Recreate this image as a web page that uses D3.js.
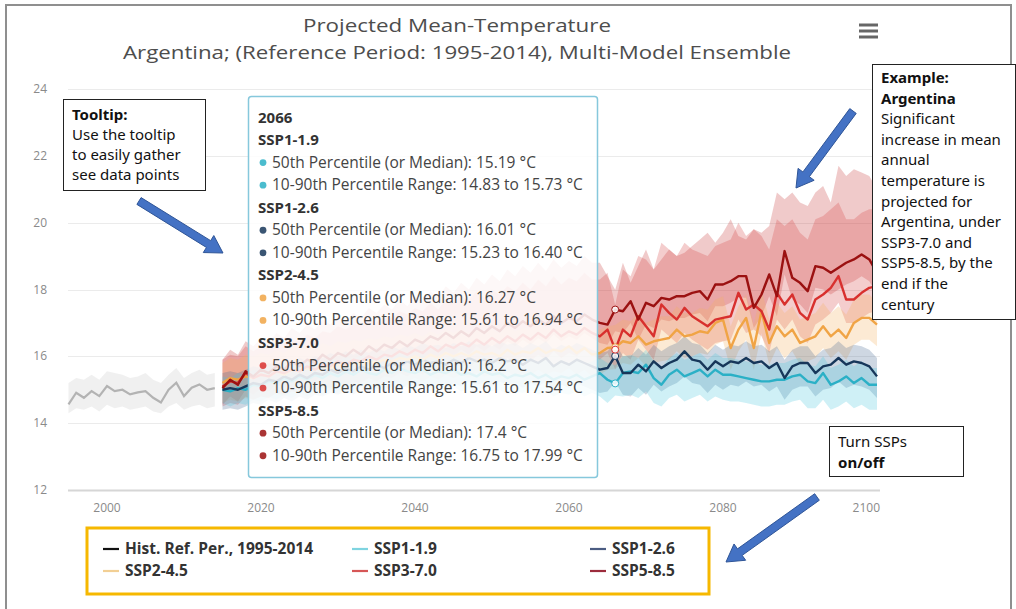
<!DOCTYPE html>
<html>
<head>
<meta charset="utf-8">
<script src="https://cdn.jsdelivr.net/npm/d3@7"></script>
<style>
  body { margin: 0; background: #fff; }
  svg { display: block; font-family: "Open Sans", sans-serif; }
</style>
</head>
<body>
<script>
// historical reference period, 1995-2014
var histStart = 1995;
var histMed = [14.56,14.91,14.76,14.96,14.81,15.11,14.96,15.0,14.86,14.92,14.96,14.76,14.62,15.0,15.21,14.81,15.06,15.16,15.0,15.05];
var histLo  = [14.3,14.45,14.4,14.5,14.35,14.55,14.45,14.5,14.4,14.45,14.5,14.35,14.3,14.5,14.6,14.4,14.5,14.55,14.45,14.5];
var histHi  = [15.2,15.35,15.3,15.45,15.3,15.55,15.5,15.45,15.35,15.4,15.5,15.3,15.2,15.45,15.65,15.35,15.5,15.6,15.45,15.5];

// projections, 2015-2100
var sspStart = 2015;
var ssp119Med = [15.0,14.95,15.05,15.0,15.15, 15.1,15.25,15.2,15.35,15.25, 15.4,15.3,15.45,15.35,15.5, 15.4,15.55,15.45,15.6,15.5, 15.45,15.6,15.5,15.65,15.55, 15.5,15.6,15.45,15.55,15.5, 15.6,15.45,15.5,15.4,15.55, 15.45,15.5,15.35,15.45,15.4, 15.5,15.35,15.45,15.3,15.4, 15.35,15.45,15.3,15.4,
  15.5,15.3,15.19,15.5,15.55, 15.5,15.75,15.35,15.15,15.45, 15.6,15.4,15.5,15.6,15.4, 15.6,15.45,15.45,15.4,15.35, 15.3,15.25,15.25,15.3,15.3, 15.4,15.45,15.25,15.2,15.5, 15.15,15.25,15.4,15.2,15.35, 15.15,15.15];
var ssp119Lo = [14.6,14.5,14.6,14.55,14.7, 14.65,14.8,14.7,14.85,14.75, 14.9,14.8,14.95,14.85,15.0, 14.9,15.05,14.95,15.1,15.0, 14.95,15.1,15.0,15.15,15.05, 15.0,15.1,14.95,15.05,15.0, 15.1,14.95,15.0,14.9,15.05, 14.95,15.0,14.85,14.95,14.9, 15.0,14.85,14.95,14.8,14.9, 14.85,14.95,14.8,14.9,
  14.8,14.6,14.83,14.8,14.85, 14.75,14.95,14.6,14.5,14.75, 14.85,14.65,14.75,14.85,14.65, 14.8,14.7,14.65,14.65,14.6, 14.55,14.5,14.5,14.55,14.55, 14.65,14.7,14.45,14.45,14.7, 14.4,14.5,14.65,14.45,14.55, 14.4,14.4];
var ssp119Hi = [15.4,15.35,15.5,15.45,15.6, 15.55,15.7,15.65,15.8,15.7, 15.85,15.75,15.9,15.8,15.95, 15.85,16.0,15.9,16.05,15.95, 15.9,16.05,15.95,16.1,16.0, 15.95,16.05,15.9,16.0,15.95, 16.05,15.9,15.95,15.85,16.0, 15.9,15.95,15.8,15.9,15.85, 15.95,15.8,15.9,15.75,15.85, 15.8,15.9,15.75,15.85,
  15.95,15.8,15.73,16.0,16.05, 15.95,16.2,15.85,15.65,15.95, 16.1,15.9,16.0,16.1,15.9, 16.1,15.95,15.95,15.9,15.85, 15.8,15.75,15.75,15.8,15.8, 15.9,15.95,15.75,15.7,16.0, 15.65,15.75,15.9,15.7,15.85, 15.65,15.65];

var ssp126Med = [15.0,15.05,15.0,15.1,15.2, 15.15,15.3,15.25,15.4,15.3, 15.45,15.35,15.5,15.45,15.6, 15.5,15.65,15.55,15.7,15.6, 15.75,15.65,15.8,15.7,15.85, 15.75,15.9,15.8,15.85,15.75, 15.9,15.8,15.95,15.85,15.9, 15.8,15.95,15.85,15.9,15.75, 15.9,15.8,15.95,15.7,15.85, 15.75,15.9,15.8,15.7,
  15.6,15.65,16.01,15.5,15.5, 15.75,15.55,15.85,15.65,15.8, 15.9,16.15,15.9,15.85,15.6, 15.85,15.7,15.85,15.8,15.95, 15.8,15.85,15.65,15.8,15.35, 15.7,15.8,15.8,15.5,15.7, 15.75,15.95,15.75,15.85,15.8, 15.7,15.4];
var ssp126Lo = [14.4,14.45,14.4,14.5,14.6, 14.55,14.7,14.6,14.75,14.65, 14.8,14.7,14.85,14.8,14.9, 14.85,14.95,14.85,15.0,14.9, 15.05,14.95,15.1,15.0,15.15, 15.05,15.2,15.1,15.15,15.05, 15.2,15.1,15.25,15.15,15.2, 15.1,15.25,15.15,15.2,15.05, 15.2,15.1,15.25,15.0,15.15, 15.05,15.2,15.1,15.0,
  14.9,14.95,15.23,14.85,14.8, 15.05,14.85,15.15,14.95,15.1, 15.2,15.4,15.2,15.15,14.9, 15.15,15.0,15.15,15.1,15.25, 15.1,15.15,14.95,15.1,14.7, 15.0,15.1,15.1,14.8,15.0, 15.05,15.25,15.05,15.15,15.1, 15.0,14.75];
var ssp126Hi = [15.5,15.55,15.5,15.6,15.7, 15.65,15.8,15.75,15.9,15.8, 15.95,15.85,16.0,15.95,16.1, 16.0,16.15,16.05,16.2,16.1, 16.25,16.15,16.3,16.2,16.35, 16.25,16.4,16.3,16.35,16.25, 16.4,16.3,16.45,16.35,16.4, 16.3,16.45,16.35,16.4,16.25, 16.4,16.3,16.45,16.2,16.35, 16.25,16.4,16.3,16.2,
  16.1,16.15,16.4,16.0,16.0, 16.25,16.05,16.35,16.15,16.3, 16.4,16.6,16.4,16.35,16.1, 16.35,16.2,16.35,16.3,16.45, 16.3,16.35,16.15,16.3,15.9, 16.2,16.3,16.3,16.0,16.2, 16.25,16.45,16.25,16.35,16.3, 16.2,15.95];

var ssp245Med = [15.2,15.35,15.3,15.4,15.35, 15.45,15.4,15.55,15.45,15.6, 15.55,15.65,15.6,15.7,15.65, 15.75,15.7,15.8,15.75,15.85, 15.8,15.9,15.85,15.95,15.9, 16.0,15.9,16.05,15.95,16.1, 16.0,16.1,16.0,16.15,16.05, 16.1,16.0,16.2,16.05,16.15, 16.1,16.25,16.1,16.2,16.15, 16.3,16.1,16.25,16.05,
  16.1,16.25,16.27,16.45,16.4, 16.6,16.35,16.45,16.5,16.55, 16.8,16.6,16.65,16.75,16.7, 17.0,17.1,16.25,16.8,17.15, 16.25,17.35,16.4,16.9,16.6, 16.8,16.4,16.5,16.6,16.9, 16.6,16.8,16.55,17.0,17.15, 17.15,16.95];
var ssp245Lo = [14.6,14.7,14.65,14.75,14.7, 14.8,14.75,14.9,14.8,14.95, 14.9,15.0,14.95,15.05,15.0, 15.1,15.05,15.15,15.1,15.2, 15.15,15.25,15.2,15.3,15.25, 15.35,15.25,15.4,15.3,15.45, 15.35,15.45,15.35,15.5,15.4, 15.45,15.35,15.55,15.4,15.5, 15.45,15.6,15.45,15.55,15.5, 15.65,15.45,15.6,15.4,
  15.45,15.6,15.61,15.8,15.75, 15.95,15.7,15.8,15.85,15.9, 16.15,15.95,16.0,16.1,16.05, 16.35,16.45,15.6,16.15,16.5, 15.6,16.7,15.75,16.25,15.95, 16.15,15.75,15.85,15.95,16.25, 15.95,16.15,15.9,16.35,16.5, 16.5,16.3];
var ssp245Hi = [15.8,15.95,15.9,16.05,16.0, 16.1,16.05,16.2,16.1,16.3, 16.2,16.35,16.25,16.4,16.3, 16.45,16.4,16.5,16.45,16.55, 16.5,16.6,16.55,16.65,16.6, 16.7,16.6,16.75,16.65,16.8, 16.7,16.8,16.7,16.85,16.75, 16.8,16.7,16.9,16.75,16.85, 16.8,16.95,16.8,16.9,16.85, 17.0,16.8,16.95,16.75,
  16.8,16.9,16.94,17.1,17.05, 17.3,17.0,17.1,17.2,17.2, 17.5,17.3,17.3,17.45,17.4, 17.7,17.8,16.9,17.5,17.85, 16.95,18.0,17.1,17.6,17.3, 17.5,17.1,17.2,17.3,17.6, 17.3,17.5,17.25,17.7,17.85, 17.85,17.6];

var ssp370Med = [15.1,15.25,15.2,15.5,15.35, 15.45,15.4,15.55,15.5,15.6, 15.55,15.7,15.6,15.75,15.7, 15.85,15.75,15.9,15.85,16.0, 15.9,16.05,16.0,16.15,16.05, 16.2,16.1,16.3,16.15,16.35, 16.25,16.4,16.3,16.5,16.35, 16.55,16.4,16.6,16.45,16.65, 16.5,16.7,16.55,16.8,16.6, 16.75,16.65,16.85,16.7,
  16.6,16.8,16.2,16.8,16.6, 17.2,16.9,16.6,17.55,17.3, 17.1,17.45,17.2,17.05,16.9, 17.1,17.15,17.2,17.9,17.4, 17.55,17.35,16.8,17.9,17.55, 17.85,17.3,17.1,17.7,17.85, 18.05,18.4,17.7,17.7,17.9, 18.05,18.1];
var ssp370Lo = [14.5,14.6,14.55,14.8,14.7, 14.8,14.75,14.9,14.85,14.95, 14.9,15.05,14.95,15.1,15.05, 15.2,15.1,15.25,15.2,15.35, 15.25,15.4,15.35,15.5,15.4, 15.55,15.45,15.65,15.5,15.7, 15.6,15.75,15.65,15.85,15.7, 15.9,15.75,15.95,15.8,16.0, 15.85,16.05,15.9,16.15,15.95, 16.1,16.0,16.2,16.05,
  15.9,16.1,15.61,16.1,15.9, 16.5,16.2,15.9,16.8,16.6, 16.4,16.7,16.5,16.35,16.2, 16.4,16.45,16.5,17.1,16.7, 16.8,16.6,16.1,17.1,16.8, 17.1,16.6,16.4,16.95,17.1, 17.3,17.6,17.0,17.0,17.15, 17.3,17.35];
var ssp370Hi = [15.9,16.05,16.0,16.3,16.15, 16.3,16.25,16.4,16.4,16.5, 16.45,16.65,16.55,16.75,16.7, 16.9,16.8,16.95,16.95,17.1, 17.0,17.2,17.15,17.35,17.25, 17.45,17.35,17.6,17.4,17.7, 17.6,17.8,17.7,17.95,17.75, 18.0,17.85,18.1,17.95,18.2, 18.0,18.3,18.1,18.4,18.15, 18.35,18.25,18.5,18.3,
  18.3,18.5,17.54,18.6,18.4, 19.0,18.9,18.6,19.4,19.2, 19.0,19.4,19.2,19.1,19.0, 19.3,19.4,19.5,20.0,19.6, 19.8,19.6,19.2,20.1,19.9, 20.1,19.7,19.5,20.1,20.2, 20.4,20.6,20.1,20.1,20.3, 20.4,20.4];

var ssp585Med = [15.05,15.3,15.15,15.55,15.4, 15.6,15.5,15.7,15.6,15.85, 15.7,15.9,15.8,16.05,15.9, 16.1,16.0,16.2,16.05,16.3, 16.15,16.35,16.25,16.45,16.3, 16.5,16.4,16.6,16.5,16.7, 16.55,16.75,16.6,16.85,16.7, 16.9,16.75,17.0,16.85,17.05, 16.9,17.1,16.95,17.2,17.0, 17.15,17.05,17.25,17.1,
  17.0,16.95,17.4,17.35,17.65, 17.1,17.6,17.5,17.75,17.7, 17.8,17.8,17.9,17.95,17.7, 18.15,18.15,18.25,18.4,18.4, 17.45,17.85,18.45,17.8,19.15, 18.35,18.2,17.95,18.7,18.65, 18.5,18.65,18.8,18.9,19.05, 18.9,18.5];
var ssp585Lo = [14.55,14.8,14.65,15.0,14.85, 15.05,14.95,15.15,15.05,15.3, 15.15,15.35,15.25,15.5,15.35, 15.55,15.45,15.65,15.5,15.75, 15.6,15.8,15.7,15.9,15.75, 15.95,15.85,16.05,15.95,16.15, 16.0,16.2,16.05,16.3,16.15, 16.35,16.2,16.45,16.3,16.5, 16.35,16.55,16.4,16.65,16.45, 16.6,16.5,16.7,16.55,
  16.4,16.35,16.75,16.7,17.0, 16.5,16.95,16.85,17.1,17.05, 17.15,17.15,17.25,17.3,17.05, 17.5,17.5,17.6,17.75,17.75, 16.85,17.2,17.8,17.2,18.45, 17.7,17.55,17.3,18.05,18.0, 17.85,18.0,18.15,18.25,18.4, 18.25,17.85];
var ssp585Hi = [15.9,16.2,16.05,16.45,16.3, 16.55,16.4,16.7,16.55,16.85, 16.7,16.95,16.8,17.1,16.95, 17.2,17.05,17.3,17.15,17.45, 17.3,17.55,17.4,17.7,17.5, 17.8,17.65,17.95,17.75,18.1, 17.9,18.2,18.0,18.35,18.15, 18.45,18.25,18.6,18.4,18.7, 18.5,18.8,18.55,18.9,18.65, 18.85,18.7,19.0,18.8,
  18.8,18.4,17.99,18.8,18.2, 18.7,19.2,18.6,18.9,19.2, 19.0,19.1,19.3,19.5,19.7, 19.4,19.7,20.1,19.6,19.5, 19.8,19.7,19.9,20.9,20.7, 20.9,20.6,20.5,20.9,21.1, 20.6,21.7,21.4,21.6,21.5, 21.4,21.0];

var sspNames = ["SSP1-1.9", "SSP1-2.6", "SSP2-4.5", "SSP3-7.0", "SSP5-8.5"];
var sspColors = ["#2bb0c6", "#17375a", "#f0a445", "#d8302e", "#9b1111"];
var bandColors = ["#4fc8de", "#4a6a92", "#f5b060", "#d84545", "#c83c3c"];

// tooltip at the hovered year
var tipYear = 2066;
var tipMedian = ["15.19", "16.01", "16.27", "16.2", "17.4"];
var tipLow = ["14.83", "15.23", "15.61", "15.61", "16.75"];
var tipHigh = ["15.73", "16.40", "16.94", "17.54", "17.99"];

var yTicks = [12, 14, 16, 18, 20, 22, 24];
var xTicks = [2000, 2020, 2040, 2060, 2080, 2100];

var legendLabels = ["Hist. Ref. Per., 1995-2014", "SSP1-1.9", "SSP1-2.6", "SSP2-4.5", "SSP3-7.0", "SSP5-8.5"];
var legendColors = ["#111111", "#7fd4e0", "#4b5c82", "#f2cf94", "#d65656", "#9c2c3c"];

var svg = d3.select('body').append('svg')
  .attr('width', 1016)
  .attr('height', 609);

var x = d3.scaleLinear().domain([1995, 2100]).range([68.5, 877]);
var y = d3.scaleLinear().domain([12, 24]).range([490, 89]);

// outer frame of the screenshot
svg.append('path')
  .attr('d', 'M6,612V5H1011V612')
  .attr('fill', 'none')
  .attr('stroke', '#8f8f8f')
  .attr('stroke-width', 2);

// title, slightly condensed
svg.append('text').attr('x', 457).attr('y', 32).attr('text-anchor', 'middle')
  .attr('textLength', 308).attr('lengthAdjust', 'spacingAndGlyphs')
  .style('font-size', '19px').style('fill', '#4d4d4d')
  .text('Projected Mean-Temperature');
svg.append('text').attr('x', 457).attr('y', 59).attr('text-anchor', 'middle')
  .attr('textLength', 668).attr('lengthAdjust', 'spacingAndGlyphs')
  .style('font-size', '19px').style('fill', '#4d4d4d')
  .text('Argentina; (Reference Period: 1995-2014), Multi-Model Ensemble');

// menu icon
svg.selectAll('.menu').data([0, 1, 2]).enter().append('line')
  .attr('x1', 859).attr('x2', 878)
  .attr('y1', d => 25 + d * 6).attr('y2', d => 25 + d * 6)
  .attr('stroke', '#666').attr('stroke-width', 3);

// grid
svg.selectAll('.grid').data(yTicks).enter().append('line')
  .attr('x1', 68).attr('x2', 880)
  .attr('y1', d => Math.round(y(d)) + 0.5).attr('y2', d => Math.round(y(d)) + 0.5)
  .attr('stroke', d => d === 12 ? '#d6d6d6' : '#ebebeb')
  .attr('stroke-width', d => d === 12 ? 2 : 1);

svg.selectAll('.ylab').data(yTicks).enter().append('text')
  .attr('x', 47).attr('y', d => y(d) + 4)
  .attr('text-anchor', 'end')
  .style('font-size', '12px').style('fill', '#8a8a8a')
  .text(d => d);

svg.selectAll('.xlab').data(xTicks).enter().append('text')
  .attr('x', (d, i) => i === xTicks.length - 1 ? x(d) + 3 : x(d))
  .attr('y', 512)
  .attr('text-anchor', (d, i) => i === xTicks.length - 1 ? 'end' : 'middle')
  .style('font-size', '12px').style('fill', '#8a8a8a')
  .text(d => d);

// build series
function rows(start, med, lo, hi) {
  return med.map((v, i) => ({year: start + i, med: v, lo: lo[i], hi: hi[i]}));
}
var hist = rows(histStart, histMed, histLo, histHi);
var ssps = [
  rows(sspStart, ssp119Med, ssp119Lo, ssp119Hi),
  rows(sspStart, ssp126Med, ssp126Lo, ssp126Hi),
  rows(sspStart, ssp245Med, ssp245Lo, ssp245Hi),
  rows(sspStart, ssp370Med, ssp370Lo, ssp370Hi),
  rows(sspStart, ssp585Med, ssp585Lo, ssp585Hi)
];

var area = d3.area().x(d => x(d.year)).y0(d => y(d.lo)).y1(d => y(d.hi));
var line = d3.line().x(d => x(d.year)).y(d => y(d.med));

svg.append('path').datum(hist).attr('d', area)
  .attr('fill', '#d9d9d9').attr('fill-opacity', 0.4);

var order = [4, 3, 2, 1, 0];
order.forEach(function(k) {
  svg.append('path').datum(ssps[k]).attr('d', area)
    .attr('fill', bandColors[k]).attr('fill-opacity', 0.27);
});

svg.append('path').datum(hist).attr('d', line)
  .attr('fill', 'none').attr('stroke', '#b3b3b3').attr('stroke-width', 2.2);

[0, 1, 2, 3, 4].forEach(function(k) {
  svg.append('path').datum(ssps[k]).attr('d', line)
    .attr('fill', 'none').attr('stroke', sspColors[k])
    .attr('stroke-width', 2.4).attr('stroke-linejoin', 'round');
});

// hover markers
svg.selectAll('.hover').data(ssps).enter().append('circle')
  .attr('cx', d => x(tipYear))
  .attr('cy', d => y(d.find(r => r.year === tipYear).med))
  .attr('r', 3.5)
  .attr('fill', '#fff').attr('fill-opacity', 0.85)
  .attr('stroke', (d, i) => sspColors[i]).attr('stroke-width', 1);

// tooltip
var tip = svg.append('g');
tip.append('rect')
  .attr('x', 248.5).attr('y', 96.5).attr('width', 349).attr('height', 381).attr('rx', 3)
  .attr('fill', '#fff').attr('fill-opacity', 0.86)
  .attr('stroke', '#86c8dc').attr('stroke-width', 1.5);

var tipRows = [{t: String(tipYear), head: true}];
sspNames.forEach(function(n, i) {
  tipRows.push({t: n, head: true});
  tipRows.push({t: '50th Percentile (or Median): ' + tipMedian[i] + ' \u00b0C', c: sspColors[i]});
  tipRows.push({t: '10-90th Percentile Range: ' + tipLow[i] + ' to ' + tipHigh[i] + ' \u00b0C', c: sspColors[i]});
});
tipRows.forEach(function(r, i) {
  var yy = 122.5 + i * 22.55;
  if (r.head) {
    tip.append('text').attr('x', 258).attr('y', yy)
      .style('font-size', '15px').style('font-weight', 'bold').style('fill', '#333')
      .text(r.t);
  } else {
    tip.append('circle').attr('cx', 263).attr('cy', yy - 5).attr('r', 3.4)
      .attr('fill', r.c).attr('fill-opacity', 0.85);
    tip.append('text').attr('x', 272).attr('y', yy)
      .style('font-size', '15.5px').style('fill', '#444')
      .text(r.t);
  }
});

// legend
var legend = svg.append('g');
legend.append('rect')
  .attr('x', 87).attr('y', 528).attr('width', 622).attr('height', 66)
  .attr('fill', '#fff').attr('stroke', '#f6b800').attr('stroke-width', 3);
var legX = [103, 352, 590];
var legY = [549, 571];
legendLabels.forEach(function(l, i) {
  var lx = legX[i % 3], ly = legY[Math.floor(i / 3)];
  legend.append('line').attr('x1', lx).attr('x2', lx + 16)
    .attr('y1', ly).attr('y2', ly)
    .attr('stroke', legendColors[i]).attr('stroke-width', 2.2);
  legend.append('text').attr('x', lx + 22).attr('y', ly + 5)
    .style('font-size', '15.5px').style('font-weight', 'bold').style('fill', '#333')
    .text(l);
});

// annotation boxes
function note(bx, by, bw, bh, lines, top, step) {
  var g = svg.append('g').style('font-family', '"Noto Sans", sans-serif');
  g.append('rect').attr('x', bx + 0.5).attr('y', by + 0.5).attr('width', bw).attr('height', bh)
    .attr('fill', '#fff').attr('stroke', '#222').attr('stroke-width', 1);
  lines.forEach(function(l, i) {
    g.append('text').attr('x', bx + 9).attr('y', top + i * step)
      .style('font-size', '15px').style('fill', '#111')
      .style('font-weight', l.b ? 'bold' : 'normal')
      .text(l.t);
  });
}
note(63, 99, 142, 91, [{t: 'Tooltip:', b: true}, {t: 'Use the tooltip'}, {t: 'to easily gather'}, {t: 'see data points'}], 120, 20);
note(872, 64, 143, 255, [{t: 'Example:', b: true}, {t: 'Argentina', b: true}, {t: 'Significant'}, {t: 'increase in mean'},
  {t: 'annual'}, {t: 'temperature is'}, {t: 'projected for'}, {t: 'Argentina, under'}, {t: 'SSP3-7.0 and'},
  {t: 'SSP5-8.5, by the'}, {t: 'end if the'}, {t: 'century'}], 83, 20.6);
note(829, 426, 134, 50, [{t: 'Turn SSPs'}, {t: 'on/off', b: true}], 447, 21);

// blue block arrows
function arrow(x1, y1, x2, y2) {
  var dx = x2 - x1, dy = y2 - y1, len = Math.sqrt(dx * dx + dy * dy);
  var ux = dx / len, uy = dy / len, px = -uy, py = ux;
  var sw = 4, hw = 10, hl = 17;
  var bx = x2 - ux * hl, by = y2 - uy * hl;
  var pts = [
    [x1 + px * sw, y1 + py * sw], [bx + px * sw, by + py * sw], [bx + px * hw, by + py * hw],
    [x2, y2], [bx - px * hw, by - py * hw], [bx - px * sw, by - py * sw], [x1 - px * sw, y1 - py * sw]
  ];
  svg.append('polygon').attr('points', pts.map(p => p.join(',')).join(' '))
    .attr('fill', '#4472c4').attr('stroke', '#2f5597').attr('stroke-width', 1);
}
arrow(139, 201, 223, 253);
arrow(853, 111, 796, 188);
arrow(817, 497, 726, 562);
</script>
</body>
</html>
